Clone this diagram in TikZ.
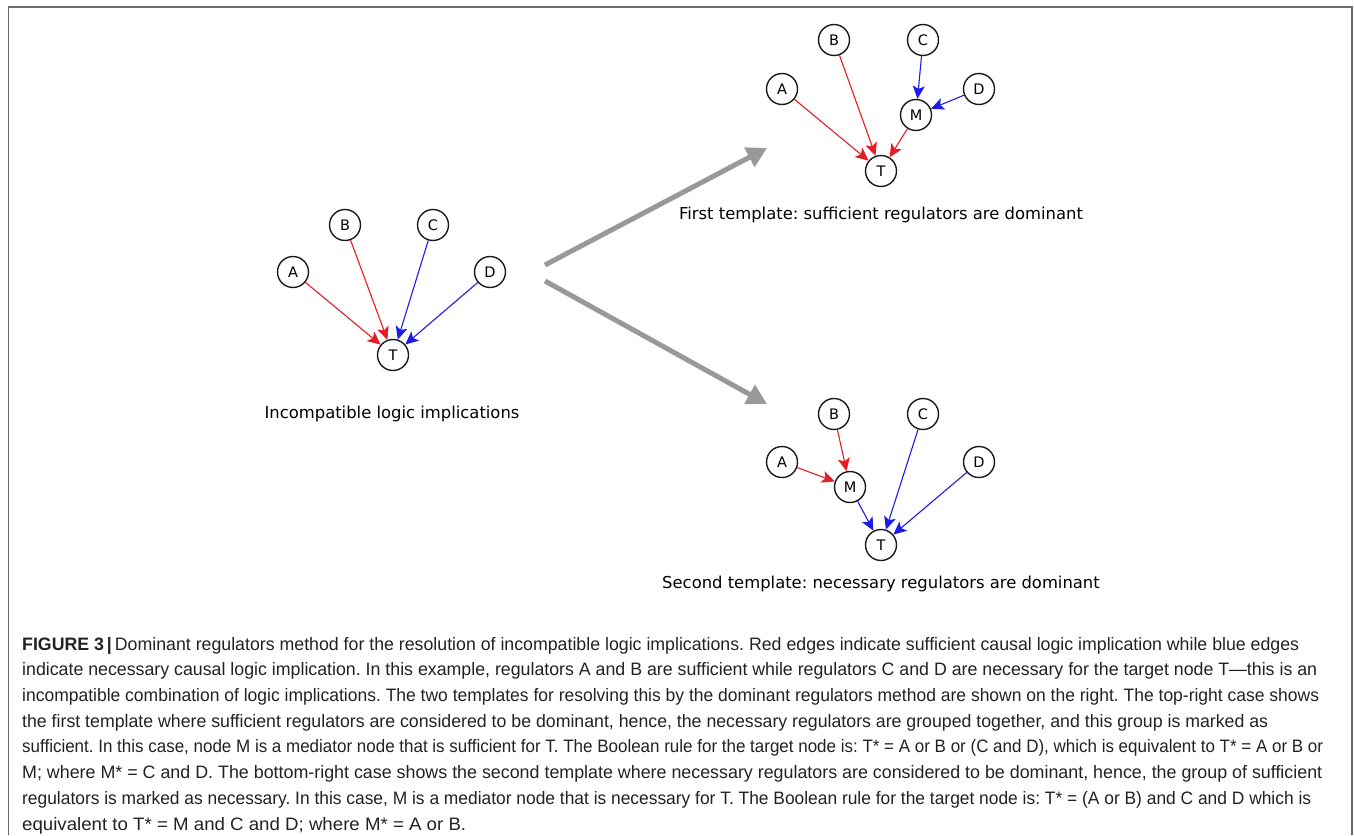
\documentclass[tikz,border=0pt]{standalone}
\usepackage{fontspec}
\usepackage{graphicx}
\setmainfont{Liberation Sans}
\newfontfamily\graphfont{DejaVu Sans}
\usetikzlibrary{arrows.meta}
\frenchspacing

\definecolor{framegray}{RGB}{106,106,106}
\definecolor{flowgray}{RGB}{153,153,153}
\definecolor{sufred}{RGB}{232,28,36}
\definecolor{necblue}{RGB}{28,28,232}
\definecolor{captext}{RGB}{34,34,34}

\tikzset{
  gene/.style={circle, draw=black!90, line width=1.4pt, fill=white,
    minimum size=31pt, inner sep=0pt,
    font=\graphfont\fontsize{14.5}{15}\selectfont},
  suff/.style={draw=sufred, line width=1.1pt,
    -{Stealth[length=13pt,width=12pt,inset=3pt]}},
  nece/.style={draw=necblue, line width=1.1pt,
    -{Stealth[length=13pt,width=12pt,inset=3pt]}},
  flow/.style={draw=flowgray, line width=5pt,
    -{Triangle[length=20pt,width=21pt]}},
  graphlabel/.style={anchor=base, inner sep=0pt,
    font=\graphfont\fontsize{16.4}{18}\selectfont},
  capline/.style={anchor=base west, inner sep=0pt, text=captext,
    font=\fontsize{18}{20}\selectfont},
}

\begin{document}
\begin{tikzpicture}[x=1pt, y=-1pt]
\useasboundingbox (0,0) rectangle (1354,835);

% frame, open at the bottom
\draw[framegray, line width=1.6pt] (8.5,835) -- (8.5,7) -- (1352,7) -- (1352,835);

% ---- incompatible implications ----
\node[gene] (lA) at (293,272) {A};
\node[gene] (lB) at (345,225) {B};
\node[gene] (lC) at (433,225) {C};
\node[gene] (lD) at (490,272) {D};
\node[gene] (lT) at (393,355) {T};
\draw[suff] (lA) -- (lT);
\draw[suff] (lB) -- (lT);
\draw[nece] (lC) -- (lT);
\draw[nece] (lD) -- (lT);
\node[graphlabel] (lLab) at (392,418) {Incompatible logic implications};

% ---- first template ----
\node[gene] (uA) at (782,89) {A};
\node[gene] (uB) at (834,40) {B};
\node[gene] (uC) at (923,40) {C};
\node[gene] (uD) at (979,89) {D};
\node[gene] (uM) at (916,115) {M};
\node[gene] (uT) at (881,171) {T};
\draw[suff] (uA) -- (uT);
\draw[suff] (uB) -- (uT);
\draw[suff] (uM) -- (uT);
\draw[nece] (uC) -- (uM);
\draw[nece] (uD) -- (uM);
\node[graphlabel] (uLab) at (881,219) {First template: sufficient regulators are dominant};

% ---- second template ----
\node[gene] (dA) at (782,462) {A};
\node[gene] (dB) at (834,414) {B};
\node[gene] (dC) at (923,414) {C};
\node[gene] (dD) at (979,462) {D};
\node[gene] (dM) at (850,487) {M};
\node[gene] (dT) at (881,545) {T};
\draw[suff] (dA) -- (dM);
\draw[suff] (dB) -- (dM);
\draw[nece] (dM) -- (dT);
\draw[nece] (dC) -- (dT);
\draw[nece] (dD) -- (dT);
\node[graphlabel] (dLab) at (881,588) {Second template: necessary regulators are dominant};

% ---- transitions ----
\coordinate (fromU) at (545,265);
\coordinate (toU) at (767,148);
\coordinate (fromD) at (545,281);
\coordinate (toD) at (767,404);
\draw[flow] (fromU) -- (toU);
\draw[flow] (fromD) -- (toD);

% ---- caption ----
\node[capline] (cap1) at (22,650) {\resizebox{1277pt}{\height}{\textbf{FIGURE 3\,|}\,Dominant regulators method for the resolution of incompatible logic implications. Red edges indicate sufficient causal logic implication while blue edges}};
\node[capline] (cap2) at (22,675.8) {\resizebox{1295pt}{\height}{indicate necessary causal logic implication. In this example, regulators A and B are sufficient while regulators C and D are necessary for the target node T---this is an}};
\node[capline] (cap3) at (22,701.5) {\resizebox{1297pt}{\height}{incompatible combination of logic implications. The two templates for resolving this by the dominant regulators method are shown on the right. The top-right case shows}};
\node[capline] (cap4) at (22,727.2) {\resizebox{1246pt}{\height}{the first template where sufficient regulators are considered to be dominant, hence, the necessary regulators are grouped together, and this group is marked as}};
\node[capline] (cap5) at (22,752.9) {\resizebox{1301pt}{\height}{sufficient. In this case, node M is a mediator node that is sufficient for T. The Boolean rule for the target node is: T* = A or B or (C and D), which is equivalent to T* = A or B or}};
\node[capline] (cap6) at (22,778.6) {\resizebox{1300pt}{\height}{M; where M* = C and D. The bottom-right case shows the second template where necessary regulators are considered to be dominant, hence, the group of sufficient}};
\node[capline] (cap7) at (22,804.3) {\resizebox{1289pt}{\height}{regulators is marked as necessary. In this case, M is a mediator node that is necessary for T. The Boolean rule for the target node is: T* = (A or B) and C and D which is}};
\node[capline] (cap8) at (22,830) {\resizebox{444pt}{\height}{equivalent to T* = M and C and D; where M* = A or B.}};
\end{tikzpicture}
\end{document}
